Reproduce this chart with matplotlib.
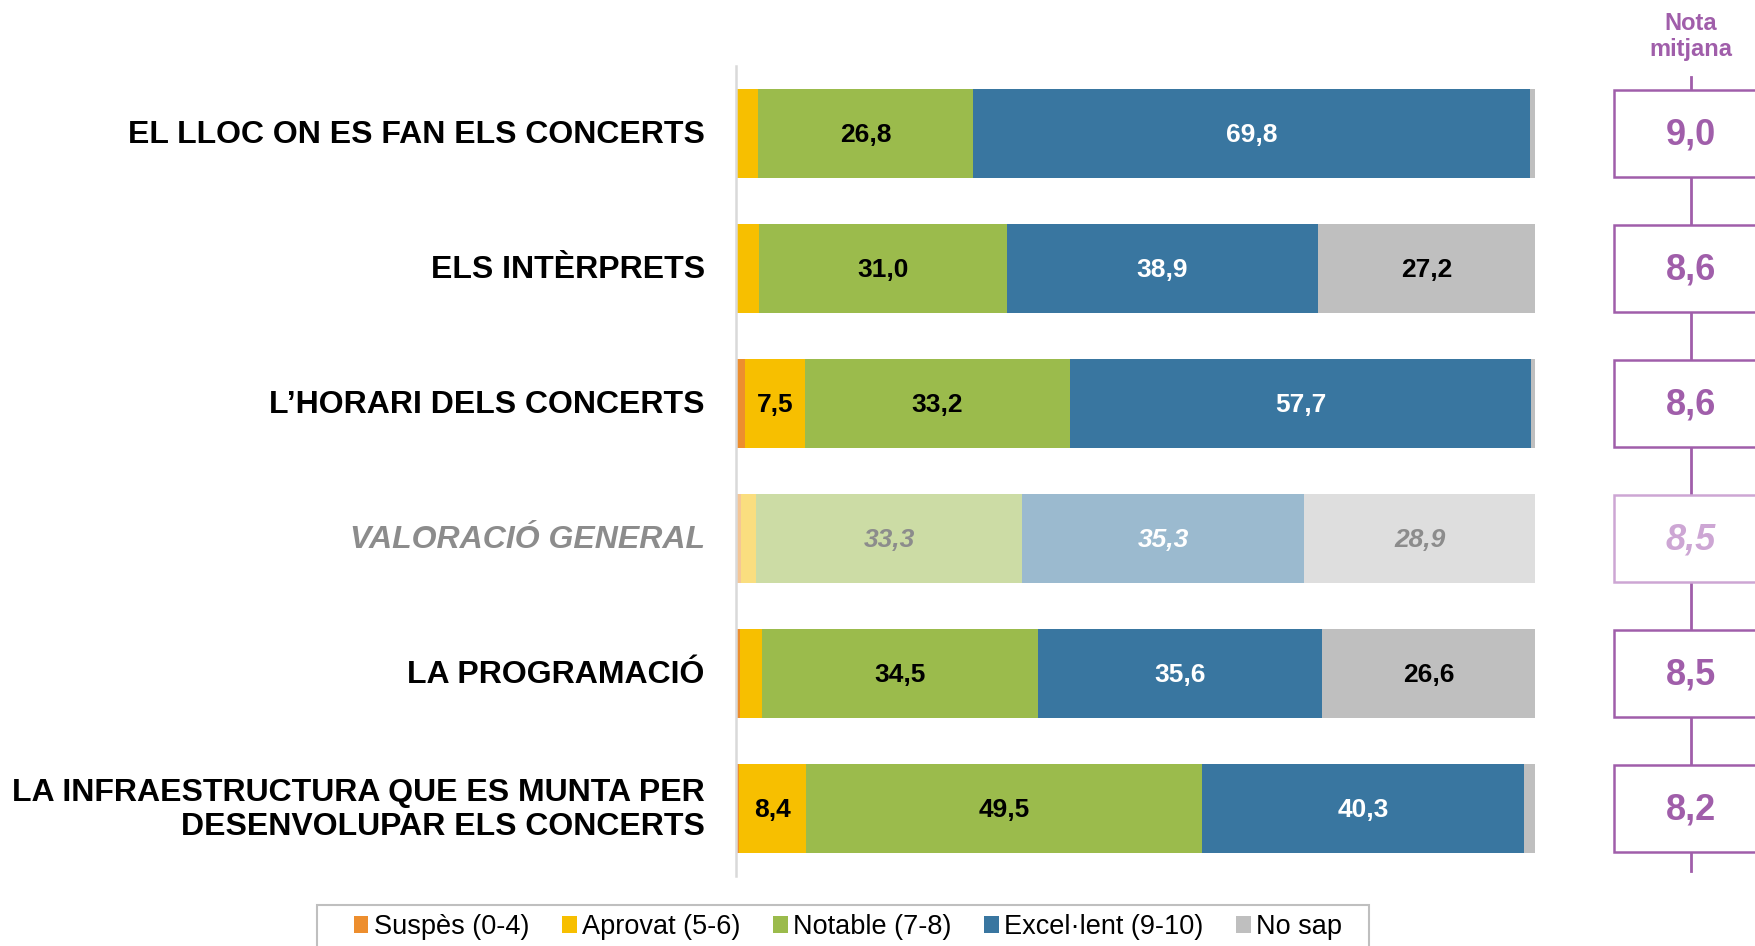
import matplotlib.pyplot as plt
from matplotlib.patches import Rectangle, Patch

plt.rcParams['font.family'] = ['Liberation Sans', 'DejaVu Sans']

categories = ['EL LLOC ON ES FAN ELS CONCERTS', 'ELS INTÈRPRETS', 'L’HORARI DELS CONCERTS',
              'VALORACIÓ GENERAL', 'LA PROGRAMACIÓ',
              'LA INFRAESTRUCTURA QUE ES MUNTA PER\nDESENVOLUPAR ELS CONCERTS']
suspes = [0.0, 0.0, 1.1, 0.6, 0.5, 0.4]
aprovat = [2.8, 2.9, 7.5, 1.9, 2.8, 8.4]
notable = [26.8, 31.0, 33.2, 33.3, 34.5, 49.5]
excellent = [69.8, 38.9, 57.7, 35.3, 35.6, 40.3]
no_sap = [0.6, 27.2, 0.5, 28.9, 26.6, 1.4]
nota_mitjana = [9.0, 8.6, 8.6, 8.5, 8.5, 8.2]
series_names = ['Suspès (0-4)', 'Aprovat (5-6)', 'Notable (7-8)', 'Excel·lent (9-10)', 'No sap']
faded_row = 3  # VALORACIÓ GENERAL is drawn lighter

colors = ['#ED8E2E', '#F7BF00', '#9BBB4C', '#3976A0', '#BFBFBF']
label_colors = ['black', 'black', 'black', 'white', 'black']
purple = '#A05EAA'
light_purple = '#CDA6D4'


def fmt(v):
    return f'{v:.1f}'.replace('.', ',')


fig = plt.figure(figsize=(17.56, 9.46), dpi=100)
ax = fig.add_axes([736 / 1756, 1 - 876 / 946, 799 / 1756, 810 / 946])

series = [suspes, aprovat, notable, excellent, no_sap]
left = [0.0] * len(categories)
for s, vals in enumerate(series):
    for i, v in enumerate(vals):
        alpha = 0.5 if i == faded_row else 1.0
        ax.barh(i, v, left=left[i], height=0.663, color=colors[s], alpha=alpha,
                edgecolor='none')
        if v >= 5:
            if i == faded_row:
                tc = 'white' if s == 3 else '#8C8C8C'
                style = 'italic'
            else:
                tc = label_colors[s]
                style = 'normal'
            ax.text(left[i] + v / 2, i + 0.01, fmt(v), ha='center', va='center',
                    fontsize=19, fontweight='bold', color=tc, style=style)
        left[i] += v

# category labels
for i, cat in enumerate(categories):
    if i == faded_row:
        ax.text(-3.9, i + 0.01, cat, ha='right', va='center', fontsize=23, fontweight='bold',
                color='#8C8C8C', style='italic', clip_on=False)
    else:
        ax.text(-3.9, i + 0.01, cat, ha='right', va='center', fontsize=23, fontweight='bold',
                color='black', multialignment='right', linespacing=1.2, clip_on=False)

ax.set_xlim(0, 100)
ax.set_ylim(5.5, -0.5)
for sp in ['top', 'right', 'bottom']:
    ax.spines[sp].set_visible(False)
ax.spines['left'].set_color('#D9D9D9')
ax.spines['left'].set_linewidth(1.8)
ax.set_xticks([])
ax.set_yticks([])

# nota mitjana column
ax.plot([119.5, 119.5], [-0.42, 5.46], color=purple, lw=2, clip_on=False, zorder=1)
ax.text(119.5, -0.72, 'Nota\nmitjana', ha='center', va='center', fontsize=17,
        fontweight='bold', color=purple, linespacing=1.15, clip_on=False)
for i, v in enumerate(nota_mitjana):
    ec = light_purple if i == faded_row else purple
    ax.add_patch(Rectangle((109.9, i - 0.32), 30, 0.64, facecolor='white', edgecolor=ec,
                           lw=1.8, clip_on=False, zorder=2))
    ax.text(119.5, i + 0.01, fmt(v), ha='center', va='center', fontsize=26, fontweight='bold',
            color=ec, style='italic' if i == faded_row else 'normal', clip_on=False, zorder=3)

# legend
fig.patches.append(Rectangle((317 / 1756, -0.05), (1369 - 317) / 1756, 0.05 + 1 - 905 / 946,
                             transform=fig.transFigure, facecolor='none',
                             edgecolor='#BFBFBF', lw=1.5))
handles = [Patch(facecolor=c, edgecolor='none') for c in colors]
fig.legend(handles, series_names, ncol=5, loc='center',
           bbox_to_anchor=(848 / 1756, 1 - 927 / 946), frameon=False,
           handlelength=0.55, handleheight=0.55, handletextpad=0.2, columnspacing=1.2,
           prop={'size': 19.5})

fig.savefig('out.png', dpi=100)
